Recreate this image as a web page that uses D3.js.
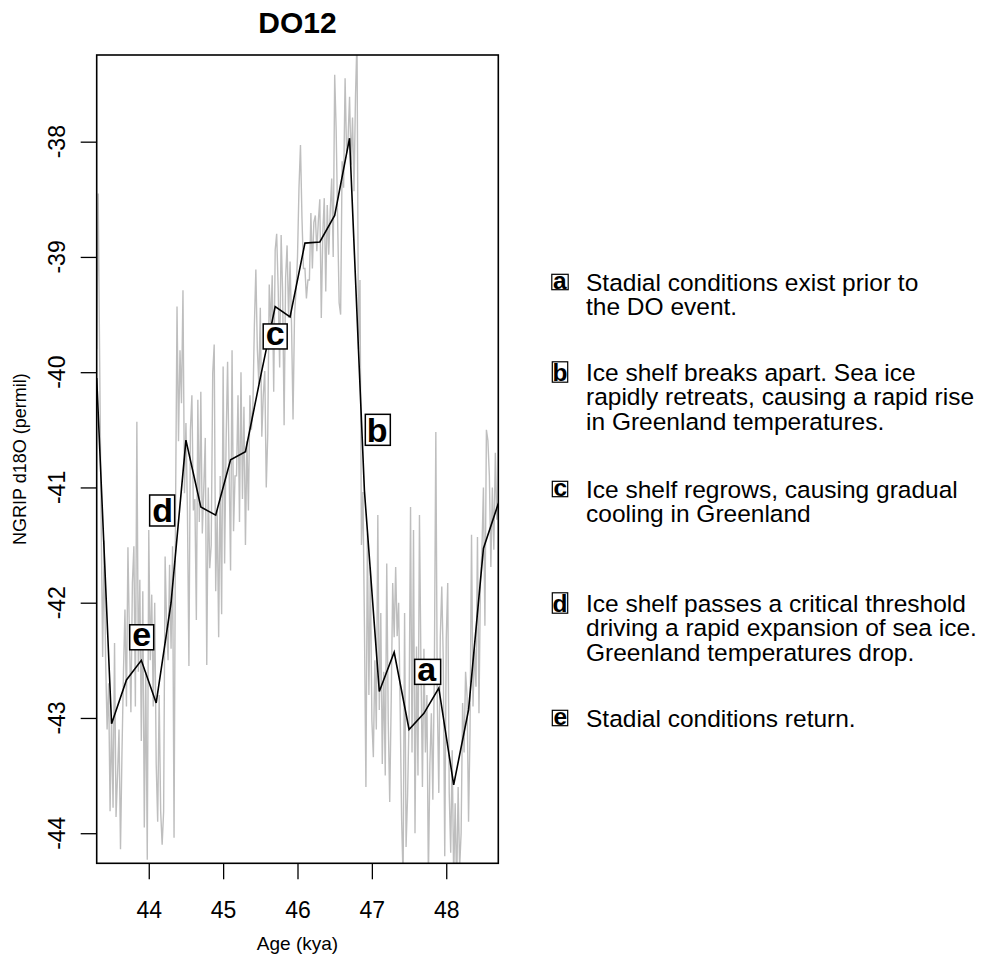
<!DOCTYPE html>
<html><head><meta charset="utf-8">
<script src="https://cdn.jsdelivr.net/npm/d3@7"></script>
<style>
body{margin:0;background:#fff}
svg{display:block}
text{font-family:"Liberation Sans",Arial,Helvetica,sans-serif;fill:#000}
</style>
</head><body>
<svg id="chart" width="1006" height="957"></svg>
<script>
// ---------------- DATA ----------------
const title = "DO12";
const xLabel = "Age (kya)";
const yLabel = "NGRIP d18O (permil)";
const xTicks = [44, 45, 46, 47, 48];
const yTicks = [-44, -43, -42, -41, -40, -39, -38];

// 200-year mean series (black)
const meanAges = [43.3, 43.5, 43.7, 43.9, 44.1, 44.3, 44.5, 44.7, 44.9, 45.1, 45.3, 45.5, 45.7, 45.9,
                  46.1, 46.3, 46.5, 46.7, 46.9, 47.1, 47.3, 47.5, 47.7, 47.9, 48.1, 48.3, 48.5, 48.7];
const meanValues = [-40.05, -43.05, -42.67, -42.50, -42.87, -42.00, -40.59, -41.17, -41.24, -40.76,
                    -40.69, -40.05, -39.43, -39.52, -38.88, -38.87, -38.64, -37.97, -41.03, -42.77,
                    -42.43, -43.10, -42.96, -42.74, -43.58, -42.93, -41.53, -41.14];

// 20-year raw series (grey), first sample at 43.30 kya, one sample every 0.02 kya
const rawStartAge = 43.30;
const rawStep = 0.02;
const rawValues = [
  -39.8, -38.45, -39.9, -41.3, -42.47,
  -41.46, -42.5, -43.1, -42.7, -43.81, -43.0, -43.78, -42.35, -43.86, -43.5,
  -43.1, -44.14, -43.3, -42.6, -42.06, -42.9, -41.52, -42.3, -42.95, -41.83,
  -41.51, -42.9, -40.43, -42.6, -41.8, -43.2, -41.9, -43.95, -42.6, -44.23,
  -41.37, -42.5, -41.93, -42.9, -42.0, -43.4, -43.9, -42.8, -43.81, -44.1,
  -43.81, -41.6, -42.2, -42.5, -41.67, -42.4, -41.51, -44.04, -41.2, -39.43,
  -40.6, -39.81, -40.27, -39.29, -41.05, -40.44, -41.2, -42.55, -40.5, -40.2,
  -41.2, -41.1, -42.15, -40.24, -41.3, -40.17, -41.4, -41.0, -40.57, -42.54,
  -41.0, -41.7, -41.5, -40.01, -39.76, -41.9, -41.2, -42.3, -40.9, -42.1,
  -39.95, -41.66, -40.6, -39.91, -40.8, -41.72, -39.81, -41.38, -40.9, -40.9,
  -40.2, -41.3, -40.0, -41.1, -40.3, -41.5, -40.6, -41.2, -40.2, -40.5,
  -40.3, -39.6, -39.11, -39.8, -40.1, -39.44, -40.56, -40.2, -39.99, -41.0,
  -40.54, -39.24, -39.6, -39.16, -40.17, -38.94, -38.8, -39.27, -39.96, -38.81,
  -39.3, -40.46, -39.18, -38.9, -39.53, -39.04, -39.6, -40.41, -39.5, -39.3,
  -39.0, -38.4, -38.03, -38.66, -39.1, -39.1, -39.36, -39.2, -39.2, -38.62,
  -39.1, -38.7, -38.64, -38.95, -38.69, -38.5, -39.53, -38.8, -38.49, -39.3,
  -38.55, -38.98, -38.6, -38.32, -39.0, -37.42, -37.9, -38.7, -39.4, -39.5,
  -38.17, -38.4, -37.45, -38.1, -37.97, -37.61, -38.2, -37.79, -38.43, -37.6,
  -37.1, -39.8, -39.2, -41.5, -41.04, -42.2, -43.6, -41.4, -42.8, -41.69,
  -43.02, -43.34, -42.5, -43.1, -41.24, -42.93, -42.09, -43.4, -42.6, -43.5,
  -41.66, -43.02, -43.73, -42.85, -41.83, -42.3, -41.69, -42.29, -42.0, -42.9,
  -43.88, -44.4, -42.09, -44.12, -43.68, -43.0, -41.17, -43.3, -41.37, -44.0,
  -42.38, -43.5, -41.24, -42.55, -43.6, -42.4, -43.3, -42.8, -44.4, -43.4,
  -42.96, -43.71, -42.6, -40.52, -42.85, -43.65, -42.3, -41.86, -42.5, -44.2,
  -42.32, -41.83, -43.65, -44.17, -43.28, -44.4, -43.74, -44.5, -43.6, -44.3,
  -44.0, -42.87, -43.3, -42.6, -42.81, -43.9, -43.1, -41.41, -42.9, -42.4,
  -42.73, -41.43, -42.96, -41.8, -41.54, -41.0, -42.2, -40.5, -40.59, -40.9,
  -41.69, -41.0, -41.54, -40.7, -41.28, -41.13
];

// in-plot annotation letters (data coordinates)
const noteLetters = ["a", "b", "c", "d", "e"];
const noteAges = [47.75, 47.08, 45.70, 44.18, 43.905];
const noteValues = [-42.60, -40.50, -39.69, -41.20, -42.30];

// key on the right
const keyLetters = ["a", "b", "c", "d", "e"];
const keyLines = [
  ["Stadial conditions exist prior to", "the DO event."],
  ["Ice shelf breaks apart. Sea ice", "rapidly retreats, causing a rapid rise", "in Greenland temperatures."],
  ["Ice shelf regrows, causing gradual", "cooling in Greenland"],
  ["Ice shelf passes a critical threshold", "driving a rapid expansion of sea ice.", "Greenland temperatures drop."],
  ["Stadial conditions return."]
];

// ---------------- LAYOUT ----------------
const FONT = '"Liberation Sans",Arial,Helvetica,sans-serif';
const plot = {left: 96.7, right: 498.3, top: 55, bottom: 863.3};
const keyRowY = [282, 372, 489, 603, 718];   // centre of first line of each key item
const keyLineGap = 24.5;
const keyBoxX = 560, keyTextX = 586, keyFont = 24.5;

const svg = d3.select("#chart");
const x = d3.scaleLinear().domain([43.3, 48.7]).range([plot.left, plot.right]);
const y = d3.scaleLinear().domain([-44.261, -37.248]).range([plot.bottom, plot.top]);

svg.append("rect").attr("width", 1006).attr("height", 957).attr("fill", "#fff");

svg.append("defs").append("clipPath").attr("id", "clip")
  .append("rect").attr("x", plot.left).attr("y", plot.top)
  .attr("width", plot.right - plot.left).attr("height", plot.bottom - plot.top);

const g = svg.append("g").attr("clip-path", "url(#clip)");

const rawLine = d3.line().x((d, i) => x(rawStartAge + i * rawStep)).y(d => y(d));
g.append("path").datum(rawValues).attr("d", rawLine)
  .attr("fill", "none").attr("stroke", "#bebebe").attr("stroke-width", 1.4);

const meanLine = d3.line().x((d, i) => x(meanAges[i])).y(d => y(d));
g.append("path").datum(meanValues).attr("d", meanLine)
  .attr("fill", "none").attr("stroke", "#000").attr("stroke-width", 1.6);

// axes
const xAxis = d3.axisBottom(x).tickValues(xTicks).tickSize(16).tickPadding(22).tickFormat(d3.format("d"));
const gx = svg.append("g").attr("transform", `translate(0,${plot.bottom})`).call(xAxis);
gx.select(".domain").remove();
gx.selectAll("line").attr("stroke", "#000").attr("stroke-width", 1.3);
gx.selectAll("text").attr("font-size", 23).attr("font-family", FONT).attr("fill", "#000");

const yAxis = d3.axisLeft(y).tickValues(yTicks).tickSize(16).tickFormat(() => "");
const gy = svg.append("g").attr("transform", `translate(${plot.left},0)`).call(yAxis);
gy.select(".domain").remove();
gy.selectAll("line").attr("stroke", "#000").attr("stroke-width", 1.3);
svg.append("g").selectAll("text").data(yTicks).join("text")
  .attr("transform", d => `translate(65,${y(d)}) rotate(-90)`)
  .attr("text-anchor", "middle").attr("font-size", 23).attr("font-family", FONT)
  .text(d => d);

// frame
svg.append("rect").attr("x", plot.left).attr("y", plot.top)
  .attr("width", plot.right - plot.left).attr("height", plot.bottom - plot.top)
  .attr("fill", "none").attr("stroke", "#000").attr("stroke-width", 1.6);

// titles
svg.append("text").attr("x", (plot.left + plot.right) / 2).attr("y", 33)
  .attr("text-anchor", "middle").attr("font-size", 30).attr("font-weight", "bold").text(title);
svg.append("text").attr("x", (plot.left + plot.right) / 2).attr("y", 950)
  .attr("text-anchor", "middle").attr("font-size", 19).text(xLabel);
svg.append("text").attr("transform", `translate(26,${(plot.top + plot.bottom) / 2}) rotate(-90)`)
  .attr("text-anchor", "middle").attr("font-size", 18).text(yLabel);

// boxed letter helper using tight glyph bounds
const ctx = document.createElement("canvas").getContext("2d");
function boxedLetter(parent, ch, cx, cy, size, pad, lw) {
  ctx.font = `bold ${size}px ${FONT}`;
  const m = ctx.measureText(ch);
  const l = m.actualBoundingBoxLeft, r = m.actualBoundingBoxRight;
  const a = m.actualBoundingBoxAscent, dsc = m.actualBoundingBoxDescent;
  const w = l + r, h = a + dsc;
  parent.append("rect").attr("x", cx - w / 2 - pad).attr("y", cy - h / 2 - pad)
    .attr("width", w + 2 * pad).attr("height", h + 2 * pad)
    .attr("fill", "#fff").attr("stroke", "#000").attr("stroke-width", lw);
  parent.append("text").attr("x", cx - (r - l) / 2).attr("y", cy + (a - dsc) / 2)
    .attr("font-size", size).attr("font-weight", "bold").text(ch);
}

const notes = svg.append("g");
noteLetters.forEach((ch, i) => boxedLetter(notes, ch, x(noteAges[i]), y(noteValues[i]), 34, 3.5, 1.5));

// key
const key = svg.append("g");
keyLetters.forEach((ch, i) => {
  boxedLetter(key, ch, keyBoxX, keyRowY[i], keyFont, 1.2, 1.2);
  keyLines[i].forEach((line, j) => {
    key.append("text").attr("x", keyTextX).attr("y", keyRowY[i] + j * keyLineGap + 8.5)
      .attr("font-size", keyFont).text(line);
  });
});
</script>
</body></html>
